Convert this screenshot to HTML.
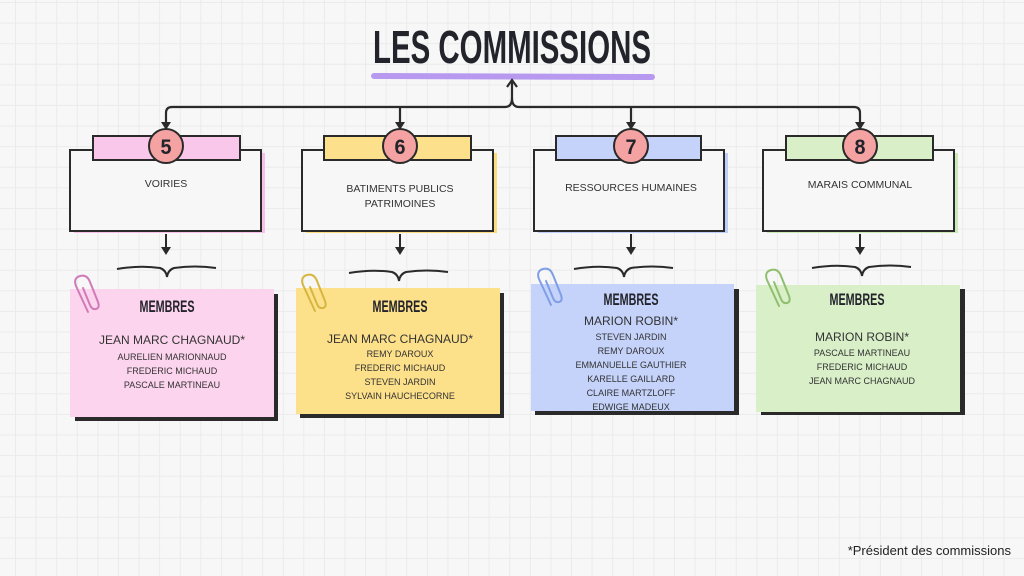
<!DOCTYPE html>
<html><head><meta charset="utf-8"><style>
html,body{margin:0;padding:0}
body{width:1024px;height:576px;overflow:hidden;background-color:#f7f7f7;
background-image:linear-gradient(to right,#ebebeb 1px,transparent 1px),linear-gradient(to bottom,#ebebeb 1px,transparent 1px);
background-size:20.6px 20.6px;background-position:15px 2px;font-family:"Liberation Sans",sans-serif}
svg{position:absolute;left:0;top:0}
.t{font-family:"Liberation Sans Narrow","Liberation Sans",sans-serif;font-weight:bold;fill:#23232b}
.l{font-size:10.5px;fill:#333;text-anchor:middle}
.n{font-size:9px;fill:#333;text-anchor:middle}
.h{font-size:12px;fill:#333;text-anchor:middle}
.m{font-family:"Liberation Sans Narrow","Liberation Sans",sans-serif;font-size:17px;font-weight:bold;fill:#23232b;text-anchor:middle}
.num{font-family:"Liberation Sans Narrow","Liberation Sans",sans-serif;font-size:21px;font-weight:bold;fill:#23232b;text-anchor:middle}
</style></head><body>
<svg width="1024" height="576" viewBox="0 0 1024 576">
<line x1="374" y1="76" x2="652" y2="77" stroke="#b79af0" stroke-width="6" stroke-linecap="round"/>
<text x="512" y="63" class="t" font-size="46" text-anchor="middle" textLength="278" lengthAdjust="spacingAndGlyphs">LES COMMISSIONS</text>
<g fill="none" stroke="#2a2a2a" stroke-width="2.2">
<path d="M166 128 V113 Q166 107 172 107 H505 Q512 107 512 98 V80"/>
<path d="M860 128 V113 Q860 107 854 107 H519 Q512 107 512 98"/>
<path d="M400 107 V128 M631 107 V128"/>
<path d="M507 87 L512 80 L517 87"/>
</g>
<g fill="#2a2a2a">
<path d="M161 122 L166 130 L171 122Z"/><path d="M395 122 L400 130 L405 122Z"/>
<path d="M626 122 L631 130 L636 122Z"/><path d="M855 122 L860 130 L865 122Z"/>
</g>
<g stroke="#2a2a2a" stroke-width="2">
<rect x="74" y="153" width="191" height="80" fill="#f7c0e8" stroke="none"/>
<rect x="70" y="150" width="191" height="81" fill="#f7f7f7"/>
<rect x="93" y="136" width="147" height="24" fill="#f9c7ea"/>
<rect x="306" y="153" width="191" height="80" fill="#fbdc7e" stroke="none"/>
<rect x="302" y="150" width="191" height="81" fill="#f7f7f7"/>
<rect x="324" y="136" width="147" height="24" fill="#fde08c"/>
<rect x="538" y="153" width="190" height="80" fill="#bdcff9" stroke="none"/>
<rect x="534" y="150" width="190" height="81" fill="#f7f7f7"/>
<rect x="556" y="136" width="145" height="24" fill="#c5d3fb"/>
<rect x="767" y="153" width="191" height="80" fill="#cde9b8" stroke="none"/>
<rect x="763" y="150" width="191" height="81" fill="#f7f7f7"/>
<rect x="786" y="136" width="147" height="24" fill="#d8efc8"/>
<circle cx="166" cy="146" r="17" fill="#f5a2a2"/>
<circle cx="400" cy="146" r="17" fill="#f5a2a2"/>
<circle cx="631" cy="146" r="17" fill="#f5a2a2"/>
<circle cx="860" cy="146" r="17" fill="#f5a2a2"/>
</g>
<text x="166" y="154" class="num" textLength="11" lengthAdjust="spacingAndGlyphs">5</text>
<text x="400" y="154" class="num" textLength="11" lengthAdjust="spacingAndGlyphs">6</text>
<text x="631" y="154" class="num" textLength="11" lengthAdjust="spacingAndGlyphs">7</text>
<text x="860" y="154" class="num" textLength="11" lengthAdjust="spacingAndGlyphs">8</text>
<text x="166" y="187" class="l">VOIRIES</text>
<text x="400" y="192" class="l">BATIMENTS PUBLICS</text>
<text x="400" y="207" class="l">PATRIMOINES</text>
<text x="631" y="191" class="l">RESSOURCES HUMAINES</text>
<text x="860" y="188" class="l">MARAIS COMMUNAL</text>
<g fill="none" stroke="#2a2a2a" stroke-width="2">
<path d="M166 234 V252 M400 234 V252 M631 234 V252 M860 234 V252"/>
<path d="M117 269 Q140 265 160 268 Q166 270 167 277 Q168 270 174 268 Q195 265 216 268"/>
<path d="M349 273 Q372 269 392 272 Q398 274 399 281 Q400 274 406 272 Q427 269 448 272"/>
<path d="M574 269 Q597 265 617 268 Q623 270 624 277 Q625 270 631 268 Q652 265 673 268"/>
<path d="M812 268 Q835 264 855 267 Q861 269 862 276 Q863 269 869 267 Q890 264 911 267"/>
</g>
<g fill="#2a2a2a">
<path d="M161 247 L166 255 L171 247Z"/><path d="M395 247 L400 255 L405 247Z"/>
<path d="M626 247 L631 255 L636 247Z"/><path d="M855 247 L860 255 L865 247Z"/>
</g>
<rect x="75" y="294" width="203" height="127" fill="#2a2a2a"/>
<rect x="70" y="289" width="204" height="128" fill="#fdd4ee"/>
<rect x="300" y="293" width="204" height="125" fill="#2a2a2a"/>
<rect x="296" y="288" width="204" height="126" fill="#fde08a"/>
<rect x="535" y="289" width="204" height="126" fill="#2a2a2a"/>
<rect x="531" y="284" width="203" height="127" fill="#c5d3fb"/>
<rect x="761" y="289" width="204" height="126" fill="#2a2a2a"/>
<rect x="756" y="285" width="204" height="127" fill="#d8efc8"/>
<g fill="none" stroke-width="2" stroke-linecap="round">
<path d="M88 312 L76 286 Q73 278 80 276 Q87 274 90 282 L98 302 Q100 308 96 309 Q92 310 90 305 L83 288" stroke="#d07ab8"/>
<path d="M315 311 L303 285 Q300 277 307 275 Q314 273 317 281 L325 301 Q327 307 323 308 Q319 309 317 304 L310 287" stroke="#d6b640"/>
<path d="M551 305 L539 279 Q536 271 543 269 Q550 267 553 275 L561 295 Q563 301 559 302 Q555 303 553 298 L546 281" stroke="#7f9ee6"/>
<path d="M779 306 L767 280 Q764 272 771 270 Q778 268 781 276 L789 296 Q791 302 787 303 Q783 304 781 299 L774 282" stroke="#8fbf6e"/>
</g>
<text x="167" y="312" class="m" textLength="55" lengthAdjust="spacingAndGlyphs">MEMBRES</text>
<text x="172" y="344" class="h">JEAN MARC CHAGNAUD*</text>
<text x="172" y="360" class="n">AURELIEN MARIONNAUD</text>
<text x="172" y="374" class="n">FREDERIC MICHAUD</text>
<text x="172" y="388" class="n">PASCALE MARTINEAU</text>
<text x="400" y="312" class="m" textLength="55" lengthAdjust="spacingAndGlyphs">MEMBRES</text>
<text x="400" y="343" class="h">JEAN MARC CHAGNAUD*</text>
<text x="400" y="357" class="n">REMY DAROUX</text>
<text x="400" y="371" class="n">FREDERIC MICHAUD</text>
<text x="400" y="385" class="n">STEVEN JARDIN</text>
<text x="400" y="399" class="n">SYLVAIN HAUCHECORNE</text>
<text x="631" y="305" class="m" textLength="55" lengthAdjust="spacingAndGlyphs">MEMBRES</text>
<text x="631" y="325" class="h">MARION ROBIN*</text>
<text x="631" y="340" class="n">STEVEN JARDIN</text>
<text x="631" y="354" class="n">REMY DAROUX</text>
<text x="631" y="368" class="n">EMMANUELLE GAUTHIER</text>
<text x="631" y="382" class="n">KARELLE GAILLARD</text>
<text x="631" y="396" class="n">CLAIRE MARTZLOFF</text>
<text x="631" y="410" class="n">EDWIGE MADEUX</text>
<text x="857" y="305" class="m" textLength="55" lengthAdjust="spacingAndGlyphs">MEMBRES</text>
<text x="862" y="341" class="h">MARION ROBIN*</text>
<text x="862" y="356" class="n">PASCALE MARTINEAU</text>
<text x="862" y="370" class="n">FREDERIC MICHAUD</text>
<text x="862" y="384" class="n">JEAN MARC CHAGNAUD</text>
<text x="1011" y="555" font-size="13" fill="#222" text-anchor="end">*Président des commissions</text>
</svg>
</body></html>
